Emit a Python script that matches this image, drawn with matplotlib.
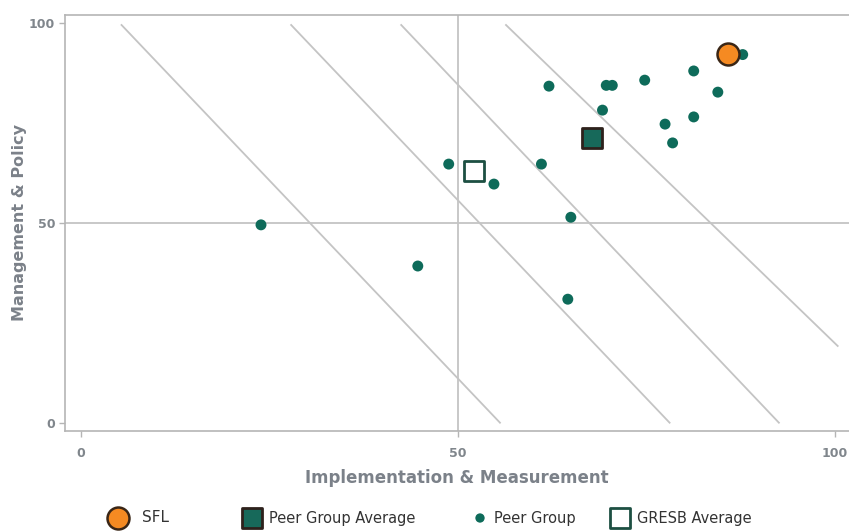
import matplotlib
matplotlib.use("Agg")
import matplotlib.pyplot as plt

# ---- data ----
peer_x = [23.9, 44.7, 48.8, 54.8, 61.1, 62.1, 65.0, 64.6, 69.2, 69.7, 70.5,
          74.8, 77.5, 78.5, 81.3, 81.3, 84.5, 87.8]
peer_y = [49.5, 39.2, 64.7, 59.7, 64.7, 84.2, 51.4, 30.9, 78.2, 84.4, 84.4,
          85.7, 74.7, 70.0, 88.0, 76.5, 82.7, 92.1]
sfl_x, sfl_y = [85.9], [92.2]
peer_avg_x, peer_avg_y = [67.8], [71.2]
gresb_x, gresb_y = [52.2], [63.0]

# diagonal reference lines: (x_start, y_start, x_end, y_end)
diag_x0 = [5.4, 27.9, 42.5, 56.4]
diag_y0 = [99.5, 99.5, 99.5, 99.5]
diag_x1 = [55.6, 78.1, 92.6, 100.4]
diag_y1 = [0.0, 0.0, 0.0, 19.2]

xticks = [0, 50, 100]
yticks = [0, 50, 100]
xlabel = "Implementation & Measurement"
ylabel = "Management & Policy"
legend_labels = ["SFL", "Peer Group Average", "Peer Group", "GRESB Average"]

# ---- styles ----
TEAL = "#0e6b5a"
GRID = "#c4c4c4"
AXC = "#b5b5b5"
LBL = "#7b8189"

W, H = 849, 531
fig = plt.figure(figsize=(W / 100, H / 100), dpi=100)
ax = fig.add_axes([65 / W, 1 - 430.7 / H, (W - 65) / W, (430.7 - 15) / H])

ax.set_xlim(-2.1, 101.9)
ax.set_ylim(-2.0, 102.0)

for x0, y0, x1, y1 in zip(diag_x0, diag_y0, diag_x1, diag_y1):
    ax.plot([x0, x1], [y0, y1], color=GRID, lw=1.3, zorder=1)

ax.axvline(50, color=GRID, lw=1.3, zorder=1)
ax.axhline(50, color=GRID, lw=1.3, zorder=1)

ax.scatter(peer_x, peer_y, s=62, color=TEAL, edgecolors="none", zorder=3)
ax.scatter(gresb_x, gresb_y, s=190, marker="s", facecolors="white",
           edgecolors="#1d4f42", linewidths=2.0, zorder=4)
ax.scatter(peer_avg_x, peer_avg_y, s=190, marker="s", facecolors="#17695a",
           edgecolors="#2e211c", linewidths=2.0, zorder=4)
ax.scatter(sfl_x, sfl_y, s=250, marker="o", facecolors="#f58a22",
           edgecolors="#3a2616", linewidths=1.8, zorder=5)

ax.spines["right"].set_visible(False)
for s in ["left", "top", "bottom"]:
    ax.spines[s].set_color(AXC)
    ax.spines[s].set_linewidth(1.2)

ax.set_xticks(xticks)
ax.set_yticks(yticks)
ax.set_xticklabels([str(t) for t in xticks])
ax.set_yticklabels([str(t) for t in yticks])
ax.tick_params(axis="both", colors=AXC, length=4, width=1, labelsize=9,
               labelcolor="#80868c")
for lab in ax.get_xticklabels() + ax.get_yticklabels():
    lab.set_fontweight("bold")
ax.tick_params(axis="x", pad=8)
ax.tick_params(axis="y", pad=3)

ax.set_xlabel(xlabel, fontsize=12, fontweight="bold", color=LBL, labelpad=6)
ax.set_ylabel(ylabel, fontsize=11.5, fontweight="bold", color=LBL)
ax.yaxis.set_label_coords(-0.049, 0.502)

# ---- legend (manual, figure pixel coordinates) ----
lg = fig.add_axes([0, 0, 1, 1], zorder=-1)
lg.set_xlim(0, W)
lg.set_ylim(H, 0)
lg.axis("off")
ly = 518
lg.scatter([118], [ly], s=250, marker="o", facecolors="#f58a22",
           edgecolors="#3a2616", linewidths=1.8)
lg.text(142, ly, legend_labels[0], va="center", ha="left", fontsize=11, color="#333333")
lg.scatter([252], [ly], s=190, marker="s", facecolors="#17695a",
           edgecolors="#2e211c", linewidths=2.0)
lg.text(269, ly, legend_labels[1], va="center", ha="left", fontsize=10.5, color="#333333")
lg.scatter([480], [ly], s=45, marker="o", color=TEAL, edgecolors="none")
lg.text(494, ly, legend_labels[2], va="center", ha="left", fontsize=10.5, color="#333333")
lg.scatter([620], [ly], s=190, marker="s", facecolors="white",
           edgecolors="#1d4f42", linewidths=2.0)
lg.text(637, ly, legend_labels[3], va="center", ha="left", fontsize=10.5, color="#333333")

fig.savefig("out.png", dpi=100)
